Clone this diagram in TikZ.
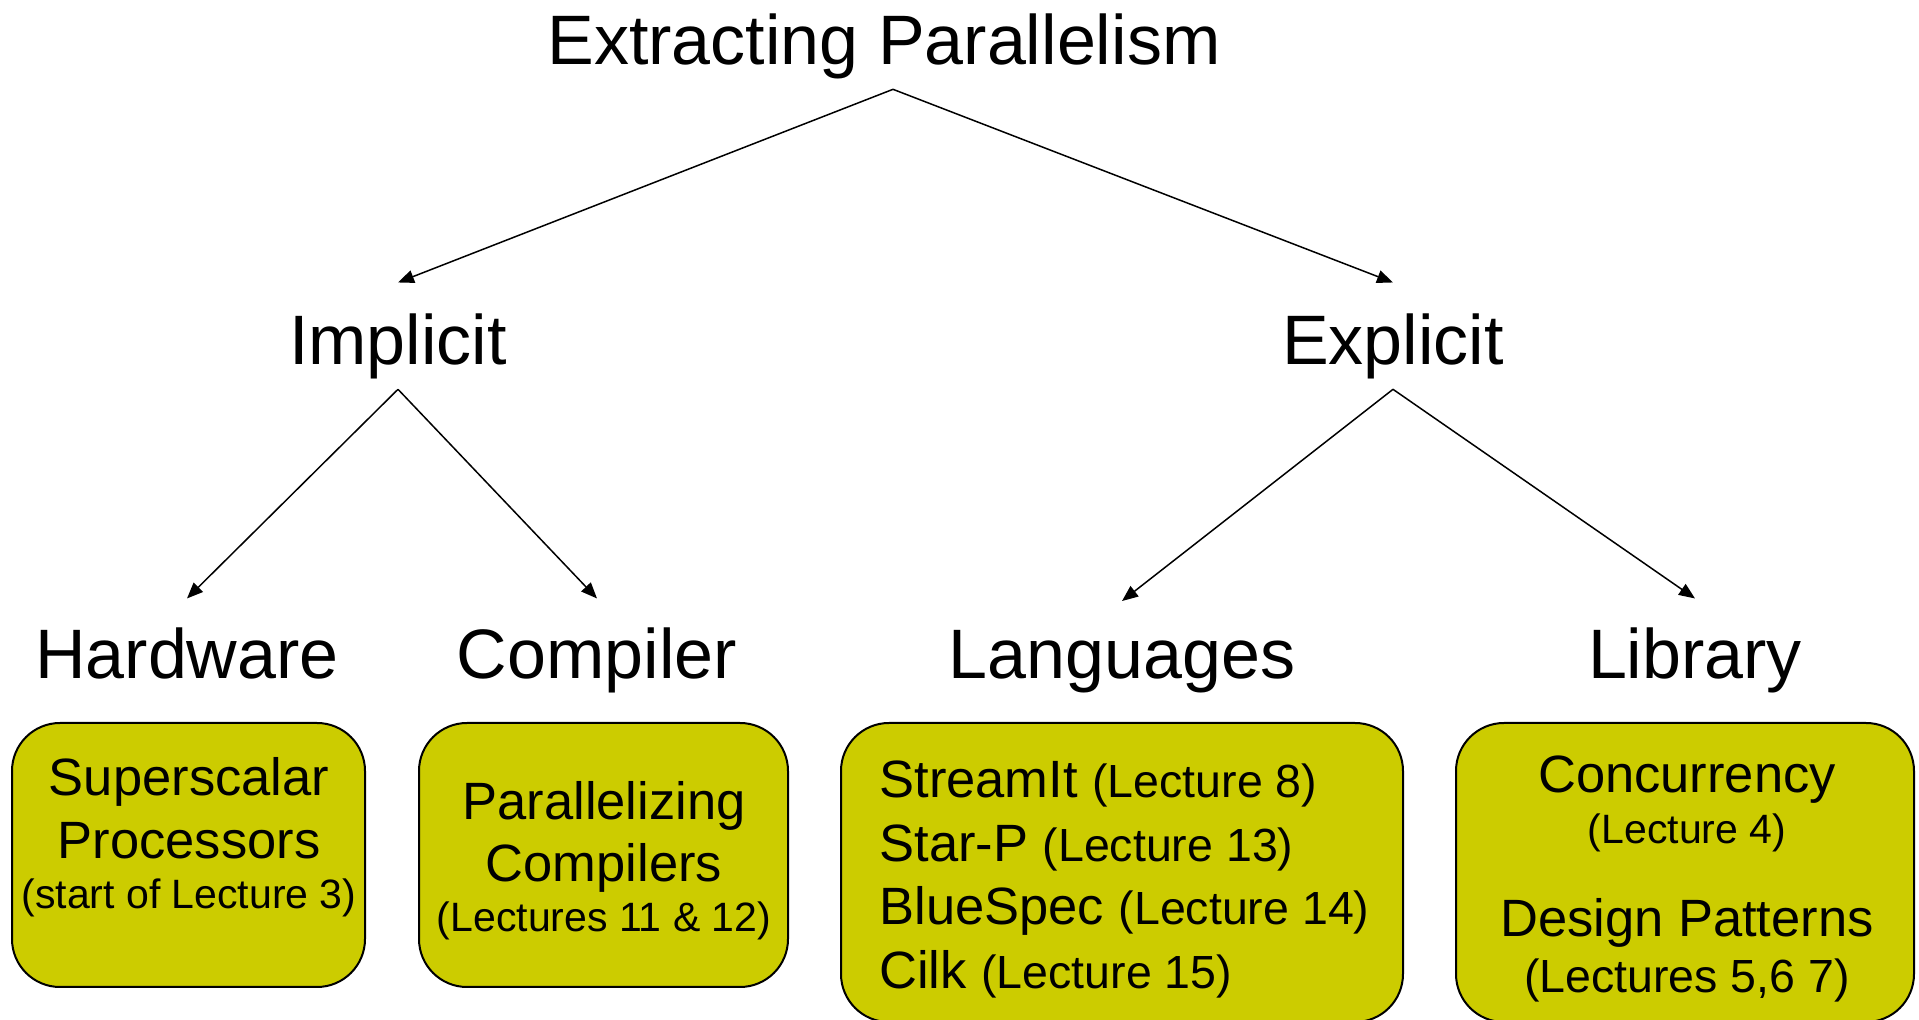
\documentclass[tikz,border=0pt]{standalone}
\usepackage{fontspec}
\setmainfont{Liberation Sans}
\usetikzlibrary{arrows.meta}
\definecolor{boxfill}{RGB}{204,204,0}
\newcommand\headsize{\fontsize{35}{42}\selectfont}
\newcommand\itemsize{\fontsize{26.25}{31}\selectfont}
\newcommand\lecsize{\fontsize{23.25}{28}\selectfont}
\newcommand\notesize{\fontsize{20.5}{25}\selectfont}

\begin{document}
\begin{tikzpicture}[x=0.5pt,y=-0.5pt,
    head/.style={anchor=base,inner sep=4.7pt,font=\headsize},
    branch/.style={-{Triangle[length=8pt,width=6.5pt]},line width=0.75pt},
    topic/.style={draw=black,line width=1pt,fill=boxfill,rounded corners=24pt,inner sep=0pt},
    txt/.style={anchor=base,inner sep=0pt}]
    \useasboundingbox (0,0) rectangle (1919,1020);

    % tree
    \node[head] (title) at (884,65) {Extracting Parallelism};
    \node[head] (impl) at (398,365) {Implicit};
    \node[head] (expl) at (1393,365) {Explicit};
    \node[head] (hw) at (187,679) {Hardware};
    \node[head] (comp) at (597,679) {Compiler};
    \node[head] (lang) at (1122,679) {Languages};
    \node[head] (lib) at (1695,679) {Library};

    \draw[branch] ([xshift=4.5pt]title.south) -- ([yshift=11pt]impl.north);
    \draw[branch] ([xshift=4.5pt]title.south) -- ([yshift=11pt]expl.north);
    \draw[branch] (impl.south) -- ([yshift=10pt]hw.north);
    \draw[branch] (impl.south) -- ([yshift=10pt]comp.north);
    \draw[branch] (expl.south) -- ([yshift=10pt]lang.north);
    \draw[branch] (expl.south) -- ([yshift=10pt]lib.north);

    % boxes
    \node[topic,minimum width=176.5pt,minimum height=132pt] (hwbox) at (188.5,855) {};
    \node[topic,minimum width=184.5pt,minimum height=132pt] (compbox) at (603.5,855) {};
    \node[topic,minimum width=281pt,minimum height=149.5pt] (langbox) at (1122,872.5) {};
    \node[topic,minimum width=229pt,minimum height=149.5pt] (libbox) at (1685,872.5) {};

    \node[txt,font=\itemsize] (hw1) at (189,796) {Superscalar};
    \node[txt,font=\itemsize] (hw2) at (189,859) {Processors};
    \node[txt,font=\notesize] (hw3) at (189,909) {(start of Lecture 3)};

    \node[txt,font=\itemsize] (comp1) at (604,820) {Parallelizing};
    \node[txt,font=\itemsize] (comp2) at (604,882) {Compilers};
    \node[txt,font=\notesize] (comp3) at (604,932) {(Lectures 11 \& 12)};

    \node[txt,anchor=base west,font=\itemsize] (lang1) at (879,798) {StreamIt {\lecsize(Lecture 8)}};
    \node[txt,anchor=base west,font=\itemsize] (lang2) at (879,862) {Star-P {\lecsize(Lecture 13)}};
    \node[txt,anchor=base west,font=\itemsize] (lang3) at (879,925) {BlueSpec {\lecsize(Lecture 14)}};
    \node[txt,anchor=base west,font=\itemsize] (lang4) at (879,989) {Cilk {\lecsize(Lecture 15)}};

    \node[txt,font=\itemsize] (lib1) at (1687,793) {Concurrency};
    \node[txt,font=\notesize] (lib2) at (1687,844) {(Lecture 4)};
    \node[txt,font=\itemsize] (lib3) at (1687,937) {Design Patterns};
    \node[txt,font=\lecsize] (lib4) at (1687,993) {(Lectures 5,6 7)};
\end{tikzpicture}
\end{document}
